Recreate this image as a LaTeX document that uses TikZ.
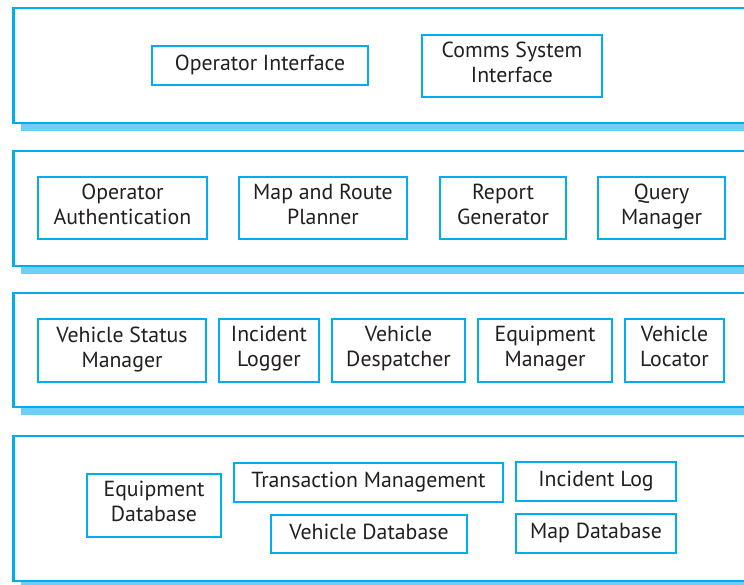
\documentclass[tikz,border=0pt]{standalone}
\usepackage{fontspec}
\setmainfont{PT Sans}
\usetikzlibrary{shadows}
\definecolor{layerblue}{HTML}{00AEEF}
\definecolor{shadeblue}{HTML}{6DCFF6}
\definecolor{inktext}{HTML}{231F20}

\begin{document}
\begin{tikzpicture}[
        x=1pt, y=-1pt,
        font=\fontsize{21.8}{25}\selectfont,
        layer/.style={draw=layerblue, line width=2.6pt, fill=white, minimum width=800pt,
            drop shadow={shadow xshift=8pt, shadow yshift=-8pt, fill=shadeblue, opacity=1}},
        comp/.style={draw=layerblue, line width=1.1pt, fill=white, text=inktext, align=center, inner sep=0pt,
            execute at begin node=\strut, execute at end node=\strut}
    ]
        \useasboundingbox (0,0) rectangle (744,584);
        \clip (0,0) rectangle (744,584);

        % layers
        \node[layer, minimum height=115pt, anchor=west] (ui)    at (12,65.5)  {};
        \node[layer, minimum height=115pt, anchor=west] (logic) at (12,208.5) {};
        \node[layer, minimum height=114pt, anchor=west] (core)  at (12,350)   {};
        \node[layer, minimum height=145pt, anchor=west] (data)  at (12,508.5) {};

        % interface layer
        \node[comp, minimum width=216pt, minimum height=39pt] (opint)   at (260,65.5) {Operator Interface};
        \node[comp, minimum width=180pt, minimum height=62pt] (commsint) at (512,66)  {Comms System\\Interface};

        % application layer
        \node[comp, minimum width=169pt, minimum height=62pt] (opauth)  at (122.5,208) {Operator\\Authentication};
        \node[comp, minimum width=168pt, minimum height=62pt] (planner) at (323,208)   {Map and Route\\Planner};
        \node[comp, minimum width=126pt, minimum height=62pt] (report)  at (503,208)   {Report\\Generator};
        \node[comp, minimum width=127pt, minimum height=62pt] (query)   at (661.5,208) {Query\\Manager};

        % services layer
        \node[comp, minimum width=168pt, minimum height=63pt] (vstatus)  at (122,350.5) {Vehicle Status\\Manager};
        \node[comp, minimum width=100pt, minimum height=63pt] (inclog)   at (269,350.5) {Incident\\Logger};
        \node[comp, minimum width=133pt, minimum height=63pt] (despatch) at (398.5,350.5) {Vehicle\\Despatcher};
        \node[comp, minimum width=134pt, minimum height=63pt] (equipmgr) at (545,350.5) {Equipment\\Manager};
        \node[comp, minimum width=99pt,  minimum height=63pt] (locator)  at (674.5,350.5) {Vehicle\\Locator};

        % database layer
        \node[comp, minimum width=134pt, minimum height=63pt] (equipdb) at (154,505.5)   {Equipment\\Database};
        \node[comp, minimum width=269pt, minimum height=39pt] (transmgt) at (368.5,482.5) {Transaction Management};
        \node[comp, minimum width=160pt, minimum height=39pt] (incdb)   at (596,481.5)   {Incident Log};
        \node[comp, minimum width=196pt, minimum height=38pt] (vehdb)   at (369,534)     {Vehicle Database};
        \node[comp, minimum width=160pt, minimum height=39pt] (mapdb)   at (596,533.5)   {Map Database};
    \end{tikzpicture}
\end{document}
